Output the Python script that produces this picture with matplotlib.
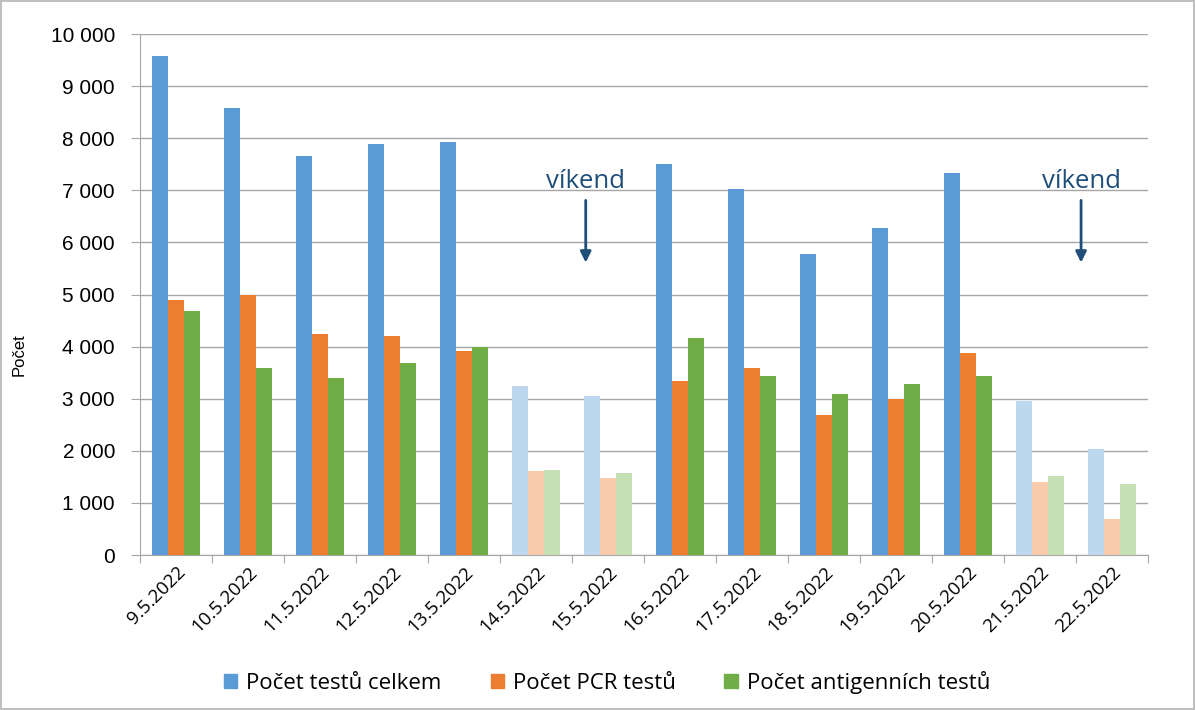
import numpy as np
import matplotlib
matplotlib.use('Agg')
import matplotlib.pyplot as plt
from matplotlib.ticker import FuncFormatter
from matplotlib.patches import Patch

dates = ['9.5.2022', '10.5.2022', '11.5.2022', '12.5.2022', '13.5.2022', '14.5.2022', '15.5.2022',
         '16.5.2022', '17.5.2022', '18.5.2022', '19.5.2022', '20.5.2022', '21.5.2022', '22.5.2022']
celkem = [9570, 8580, 7665, 7885, 7920, 3240, 3050, 7500, 7020, 5770, 6270, 7330, 2950, 2030]
pcr = [4890, 4990, 4250, 4210, 3915, 1610, 1485, 3335, 3585, 2690, 2995, 3880, 1405, 685]
antigen = [4685, 3585, 3405, 3680, 4000, 1630, 1570, 4170, 3440, 3085, 3275, 3440, 1515, 1355]
vikend = [False, False, False, False, False, True, True, False, False, False, False, False, True, True]

labels = ['Počet testů celkem', 'Počet PCR testů', 'Počet antigenních testů']
barvy = ['#5B9BD5', '#ED7D31', '#70AD47']
svetle = ['#BDD7EE', '#F8CBAD', '#C5E0B4']

fig = plt.figure(figsize=(11.95, 7.1), dpi=100)
fig.patch.set_edgecolor('#BFBFBF')
fig.patch.set_linewidth(1.5)
ax = fig.add_axes([0.1172, 0.2183, 0.8435, 0.7338])

x = np.arange(len(dates))
w = 0.222
for i, serie in enumerate([celkem, pcr, antigen]):
    cols = [svetle[i] if v else barvy[i] for v in vikend]
    ax.bar(x + (i - 1) * w, serie, width=w, color=cols, zorder=3)

ax.set_xlim(-0.5, len(dates) - 0.5)
ax.set_ylim(0, 10000)
ax.set_yticks(np.arange(0, 10001, 1000))
ax.yaxis.set_major_formatter(FuncFormatter(lambda v, p: f'{int(v):,}'.replace(',', ' ')))
ax.grid(axis='y', color='#A6A6A6', linewidth=1, zorder=0)
ax.set_axisbelow(True)

# ticks between categories
ax.set_xticks(np.arange(-0.5, len(dates), 1.0), minor=False)
ax.set_xticklabels([])
ax.set_xticks(x, minor=True)
ax.set_xticklabels(dates, minor=True, rotation=45, ha='right', va='top',
                   rotation_mode='anchor', fontsize=13.5, family='Open Sans')
ax.tick_params(axis='x', which='minor', length=0, pad=6)
ax.tick_params(axis='x', which='major', length=6, color='#A6A6A6')
ax.tick_params(axis='y', length=6.5, color='#A6A6A6', labelsize=15, pad=11.5)
for t in ax.get_yticklabels():
    t.set_family('Liberation Sans')

for s in ['top', 'right']:
    ax.spines[s].set_visible(False)
ax.spines['left'].set_color('#A6A6A6')
ax.spines['bottom'].set_color('#A6A6A6')

ax.set_ylabel('Počet', fontsize=12, family='Liberation Sans')
ax.yaxis.set_label_coords(27 / 1195, 0.5, transform=fig.transFigure)

# vikend sipky
for xa in [5.69, 12.57]:
    ax.text(xa, 7160, 'víkend', color='#1F4E79', fontsize=18.5, family='Open Sans',
            ha='center', va='center')
    ax.annotate('', xy=(xa, 5560), xytext=(xa, 6860),
                arrowprops=dict(arrowstyle='-|>', color='#1F4E79', lw=2, mutation_scale=16))

handles = [Patch(color=c) for c in barvy]
fig.legend(handles, labels, loc='center', bbox_to_anchor=(0.508, 0.039), ncol=3, frameon=False,
           prop={'family': 'Open Sans', 'size': 16}, handlelength=0.6, handleheight=0.6,
           columnspacing=2.2, handletextpad=0.4)

fig.savefig('out.png', dpi=100, edgecolor=fig.get_edgecolor())
